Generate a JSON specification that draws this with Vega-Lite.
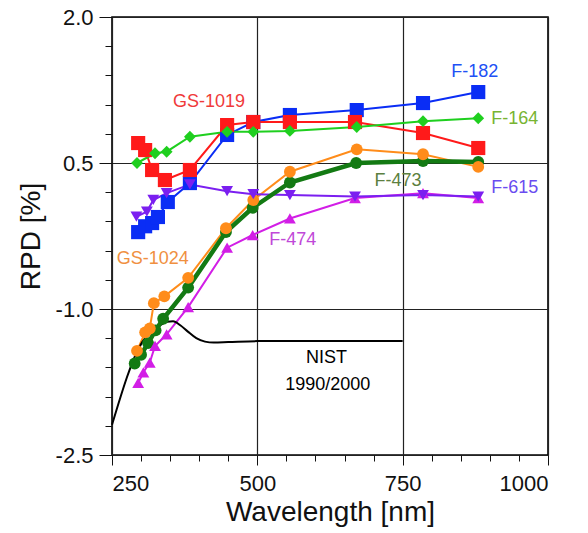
{
  "$schema": "https://vega.github.io/schema/vega-lite/v6.json",
  "autosize": "none",
  "width": 436,
  "height": 438,
  "padding": {"left": 112, "top": 17, "right": 40, "bottom": 78},
  "background": "white",
  "config": {
    "view": {"stroke": "#000000", "strokeWidth": 1.6},
    "font": "Liberation Sans",
    "axis": {"labelFont": "Liberation Sans", "titleFont": "Liberation Sans", "titleFontWeight": "normal", "labelColor": "#111111", "titleColor": "#111111", "tickColor": "#111111", "domain": false, "labelOverlap": false}
  },
  "datasets": {
    "series": [
      {"series": "NIST", "nm": 250, "rpd": -2.19},
      {"series": "NIST", "nm": 302, "rpd": -1.34},
      {"series": "NIST", "nm": 325, "rpd": -1.2},
      {"series": "NIST", "nm": 345, "rpd": -1.13},
      {"series": "NIST", "nm": 355, "rpd": -1.125},
      {"series": "NIST", "nm": 368, "rpd": -1.17},
      {"series": "NIST", "nm": 380, "rpd": -1.23},
      {"series": "NIST", "nm": 395, "rpd": -1.3},
      {"series": "NIST", "nm": 410, "rpd": -1.335},
      {"series": "NIST", "nm": 425, "rpd": -1.345},
      {"series": "NIST", "nm": 450, "rpd": -1.34},
      {"series": "NIST", "nm": 500, "rpd": -1.33},
      {"series": "NIST", "nm": 750, "rpd": -1.33},

      {"series": "F-473", "nm": 289, "rpd": -1.56},
      {"series": "F-473", "nm": 300, "rpd": -1.47},
      {"series": "F-473", "nm": 312, "rpd": -1.35},
      {"series": "F-473", "nm": 325, "rpd": -1.22},
      {"series": "F-473", "nm": 338, "rpd": -1.1},
      {"series": "F-473", "nm": 381, "rpd": -0.78},
      {"series": "F-473", "nm": 446, "rpd": -0.21},
      {"series": "F-473", "nm": 492, "rpd": 0.04},
      {"series": "F-473", "nm": 556, "rpd": 0.3},
      {"series": "F-473", "nm": 670, "rpd": 0.5},
      {"series": "F-473", "nm": 785, "rpd": 0.52},
      {"series": "F-473", "nm": 880, "rpd": 0.51},

      {"series": "F-474", "nm": 295, "rpd": -1.76},
      {"series": "F-474", "nm": 304, "rpd": -1.65},
      {"series": "F-474", "nm": 315, "rpd": -1.55},
      {"series": "F-474", "nm": 324, "rpd": -1.38},
      {"series": "F-474", "nm": 344, "rpd": -1.26},
      {"series": "F-474", "nm": 381, "rpd": -0.98},
      {"series": "F-474", "nm": 448, "rpd": -0.37},
      {"series": "F-474", "nm": 492, "rpd": -0.24},
      {"series": "F-474", "nm": 556, "rpd": -0.07},
      {"series": "F-474", "nm": 668, "rpd": 0.14},
      {"series": "F-474", "nm": 785, "rpd": 0.19},
      {"series": "F-474", "nm": 880, "rpd": 0.14},

      {"series": "GS-1024", "nm": 293, "rpd": -1.43},
      {"series": "GS-1024", "nm": 307, "rpd": -1.24},
      {"series": "GS-1024", "nm": 315, "rpd": -1.2},
      {"series": "GS-1024", "nm": 322, "rpd": -0.94},
      {"series": "GS-1024", "nm": 340, "rpd": -0.87},
      {"series": "GS-1024", "nm": 381, "rpd": -0.68},
      {"series": "GS-1024", "nm": 446, "rpd": -0.17},
      {"series": "GS-1024", "nm": 493, "rpd": 0.12},
      {"series": "GS-1024", "nm": 556, "rpd": 0.41},
      {"series": "GS-1024", "nm": 671, "rpd": 0.64},
      {"series": "GS-1024", "nm": 785, "rpd": 0.59},
      {"series": "GS-1024", "nm": 880, "rpd": 0.46},

      {"series": "F-182", "nm": 295, "rpd": -0.21},
      {"series": "F-182", "nm": 307, "rpd": -0.15},
      {"series": "F-182", "nm": 319, "rpd": -0.117},
      {"series": "F-182", "nm": 329, "rpd": -0.055},
      {"series": "F-182", "nm": 346, "rpd": 0.099},
      {"series": "F-182", "nm": 384, "rpd": 0.294},
      {"series": "F-182", "nm": 448, "rpd": 0.788},
      {"series": "F-182", "nm": 493, "rpd": 0.921},
      {"series": "F-182", "nm": 556, "rpd": 0.993},
      {"series": "F-182", "nm": 671, "rpd": 1.044},
      {"series": "F-182", "nm": 785, "rpd": 1.116},
      {"series": "F-182", "nm": 880, "rpd": 1.229},

      {"series": "F-615", "nm": 292, "rpd": -0.05},
      {"series": "F-615", "nm": 310, "rpd": 0.0},
      {"series": "F-615", "nm": 321, "rpd": 0.12},
      {"series": "F-615", "nm": 344, "rpd": 0.19},
      {"series": "F-615", "nm": 384, "rpd": 0.28},
      {"series": "F-615", "nm": 448, "rpd": 0.21},
      {"series": "F-615", "nm": 493, "rpd": 0.18},
      {"series": "F-615", "nm": 556, "rpd": 0.17},
      {"series": "F-615", "nm": 668, "rpd": 0.155},
      {"series": "F-615", "nm": 785, "rpd": 0.17},
      {"series": "F-615", "nm": 880, "rpd": 0.155},

      {"series": "GS-1019", "nm": 295, "rpd": 0.705},
      {"series": "GS-1019", "nm": 307, "rpd": 0.633},
      {"series": "GS-1019", "nm": 319, "rpd": 0.428},
      {"series": "GS-1019", "nm": 341, "rpd": 0.325},
      {"series": "GS-1019", "nm": 384, "rpd": 0.428},
      {"series": "GS-1019", "nm": 448, "rpd": 0.89},
      {"series": "GS-1019", "nm": 493, "rpd": 0.921},
      {"series": "GS-1019", "nm": 556, "rpd": 0.921},
      {"series": "GS-1019", "nm": 668, "rpd": 0.921},
      {"series": "GS-1019", "nm": 785, "rpd": 0.808},
      {"series": "GS-1019", "nm": 880, "rpd": 0.654},

      {"series": "F-164", "nm": 293, "rpd": 0.5},
      {"series": "F-164", "nm": 324, "rpd": 0.6},
      {"series": "F-164", "nm": 344, "rpd": 0.616},
      {"series": "F-164", "nm": 384, "rpd": 0.77},
      {"series": "F-164", "nm": 448, "rpd": 0.82},
      {"series": "F-164", "nm": 493, "rpd": 0.82},
      {"series": "F-164", "nm": 556, "rpd": 0.83},
      {"series": "F-164", "nm": 671, "rpd": 0.87},
      {"series": "F-164", "nm": 785, "rpd": 0.93},
      {"series": "F-164", "nm": 880, "rpd": 0.96}
    ],
    "labels": [
      {"series": "F-182", "nm": 874, "rpd": 1.44, "text": "F-182"},
      {"series": "F-164", "nm": 943, "rpd": 0.95, "text": "F-164"},
      {"series": "GS-1019", "nm": 417, "rpd": 1.13, "text": "GS-1019"},
      {"series": "F-473", "nm": 742, "rpd": 0.32, "text": "F-473"},
      {"series": "F-615", "nm": 943, "rpd": 0.24, "text": "F-615"},
      {"series": "GS-1024", "nm": 320, "rpd": -0.49, "text": "GS-1024"},
      {"series": "F-474", "nm": 561, "rpd": -0.29, "text": "F-474"},
      {"series": "NIST", "nm": 619, "rpd": -1.5, "text": "NIST"},
      {"series": "NIST", "nm": 621, "rpd": -1.78, "text": "1990/2000"}
    ]
  },
  "resolve": {"scale": {"color": "independent"}},
  "layer": [
    {
      "data": {"name": "series"},
      "transform": [{"filter": "datum.series !== 'F-473' && datum.series !== 'NIST'"}],
      "mark": {"type": "line", "strokeWidth": 2},
      "encoding": {
        "x": {"field": "nm", "type": "quantitative", "scale": {"domain": [250, 1000], "nice": false, "zero": false},
          "axis": {"orient": "bottom", "values": [250, 300, 350, 400, 450, 500, 550, 600, 650, 700, 750, 800, 850, 900, 950, 1000], "tickCount": 40,
            "tickSize": {"condition": {"test": "datum.value % 250 === 0", "value": 10}, "value": 6},
            "gridOpacity": {"condition": {"test": "datum.value % 250 === 0", "value": 1}, "value": 0},
            "labelExpr": "datum.value % 250 === 0 ? format(datum.value, 'd') : ''",
            "labelFontSize": 22, "labelPadding": 8, "title": "Wavelength [nm]", "titleFontSize": 28, "titlePadding": 4, "grid": true, "gridColor": "#222222", "gridWidth": 1.2}},
        "y": {"field": "rpd", "type": "quantitative", "scale": {"domain": [-2.5, 2.0], "nice": false, "zero": false},
          "axis": {"orient": "left", "values": [-2.5, -2.2, -1.9, -1.6, -1.3, -1.0, -0.7, -0.4, -0.1, 0.2, 0.5, 0.8, 1.1, 1.4, 1.7, 2.0], "tickCount": 40,
            "tickSize": {"condition": {"test": "abs((datum.value + 2.5) / 1.5 - round((datum.value + 2.5) / 1.5)) < 0.01", "value": 13}, "value": 7},
            "gridOpacity": {"condition": {"test": "abs((datum.value + 2.5) / 1.5 - round((datum.value + 2.5) / 1.5)) < 0.01", "value": 1}, "value": 0},
            "labelExpr": "abs((datum.value + 2.5) / 1.5 - round((datum.value + 2.5) / 1.5)) < 0.01 ? replace(format(datum.value, '.1f'), '\u2212', '-') : ''",
            "labelFontSize": 22, "labelPadding": 6, "title": "RPD [%]", "titleFontSize": 28, "titlePadding": 10, "grid": true, "gridColor": "#222222", "gridWidth": 1.2}},
        "color": {"field": "series", "type": "nominal", "legend": null,
          "scale": {"domain": ["F-182", "GS-1019", "F-164", "F-615", "GS-1024", "F-473", "F-474", "NIST"], "range": ["#0a2df5", "#ff1a1a", "#1fcf1f", "#7b1ff0", "#ff8c1a", "#137a13", "#d21ee6", "#000000"]}}
      }
    },
    {
      "data": {"name": "series"},
      "transform": [{"filter": "datum.series === 'NIST'"}],
      "mark": {"type": "line", "strokeWidth": 2, "color": "#000000", "interpolate": "monotone"},
      "encoding": {
        "x": {"field": "nm", "type": "quantitative"},
        "y": {"field": "rpd", "type": "quantitative"}
      }
    },
    {
      "data": {"name": "series"},
      "transform": [{"filter": "datum.series === 'F-473'"}],
      "mark": {"type": "line", "strokeWidth": 4.5, "color": "#137a13"},
      "encoding": {
        "x": {"field": "nm", "type": "quantitative"},
        "y": {"field": "rpd", "type": "quantitative"}
      }
    },
    {
      "data": {"name": "series"},
      "transform": [{"filter": "datum.series !== 'NIST'"}],
      "mark": {"type": "point", "filled": true, "opacity": 1, "size": 150},
      "encoding": {
        "x": {"field": "nm", "type": "quantitative"},
        "y": {"field": "rpd", "type": "quantitative"},
        "shape": {"field": "series", "type": "nominal", "legend": null,
          "scale": {"domain": ["F-182", "GS-1019", "F-164", "F-615", "GS-1024", "F-473", "F-474"], "range": ["square", "square", "diamond", "triangle-down", "circle", "circle", "triangle-up"]}},
        "size": {"condition": {"test": "datum.series === 'F-182' || datum.series === 'GS-1019'", "value": 200}, "value": 140},
        "color": {"field": "series", "type": "nominal", "legend": null,
          "scale": {"domain": ["F-182", "GS-1019", "F-164", "F-615", "GS-1024", "F-473", "F-474"], "range": ["#0a2df5", "#ff1a1a", "#1fcf1f", "#7b1ff0", "#ff8c1a", "#137a13", "#d21ee6"]}}
      }
    },
    {
      "data": {"name": "labels"},
      "mark": {"type": "text", "fontSize": 18, "font": "Liberation Sans", "align": "center", "baseline": "middle"},
      "encoding": {
        "x": {"field": "nm", "type": "quantitative"},
        "y": {"field": "rpd", "type": "quantitative"},
        "text": {"field": "text", "type": "nominal"},
        "color": {"field": "series", "type": "nominal", "legend": null,
          "scale": {"domain": ["F-182", "GS-1019", "F-164", "F-615", "GS-1024", "F-473", "F-474", "NIST"], "range": ["#2050f5", "#f03a3a", "#78b432", "#6a4cf0", "#f09040", "#5c8040", "#c048d8", "#000000"]}}
      }
    }
  ]
}
